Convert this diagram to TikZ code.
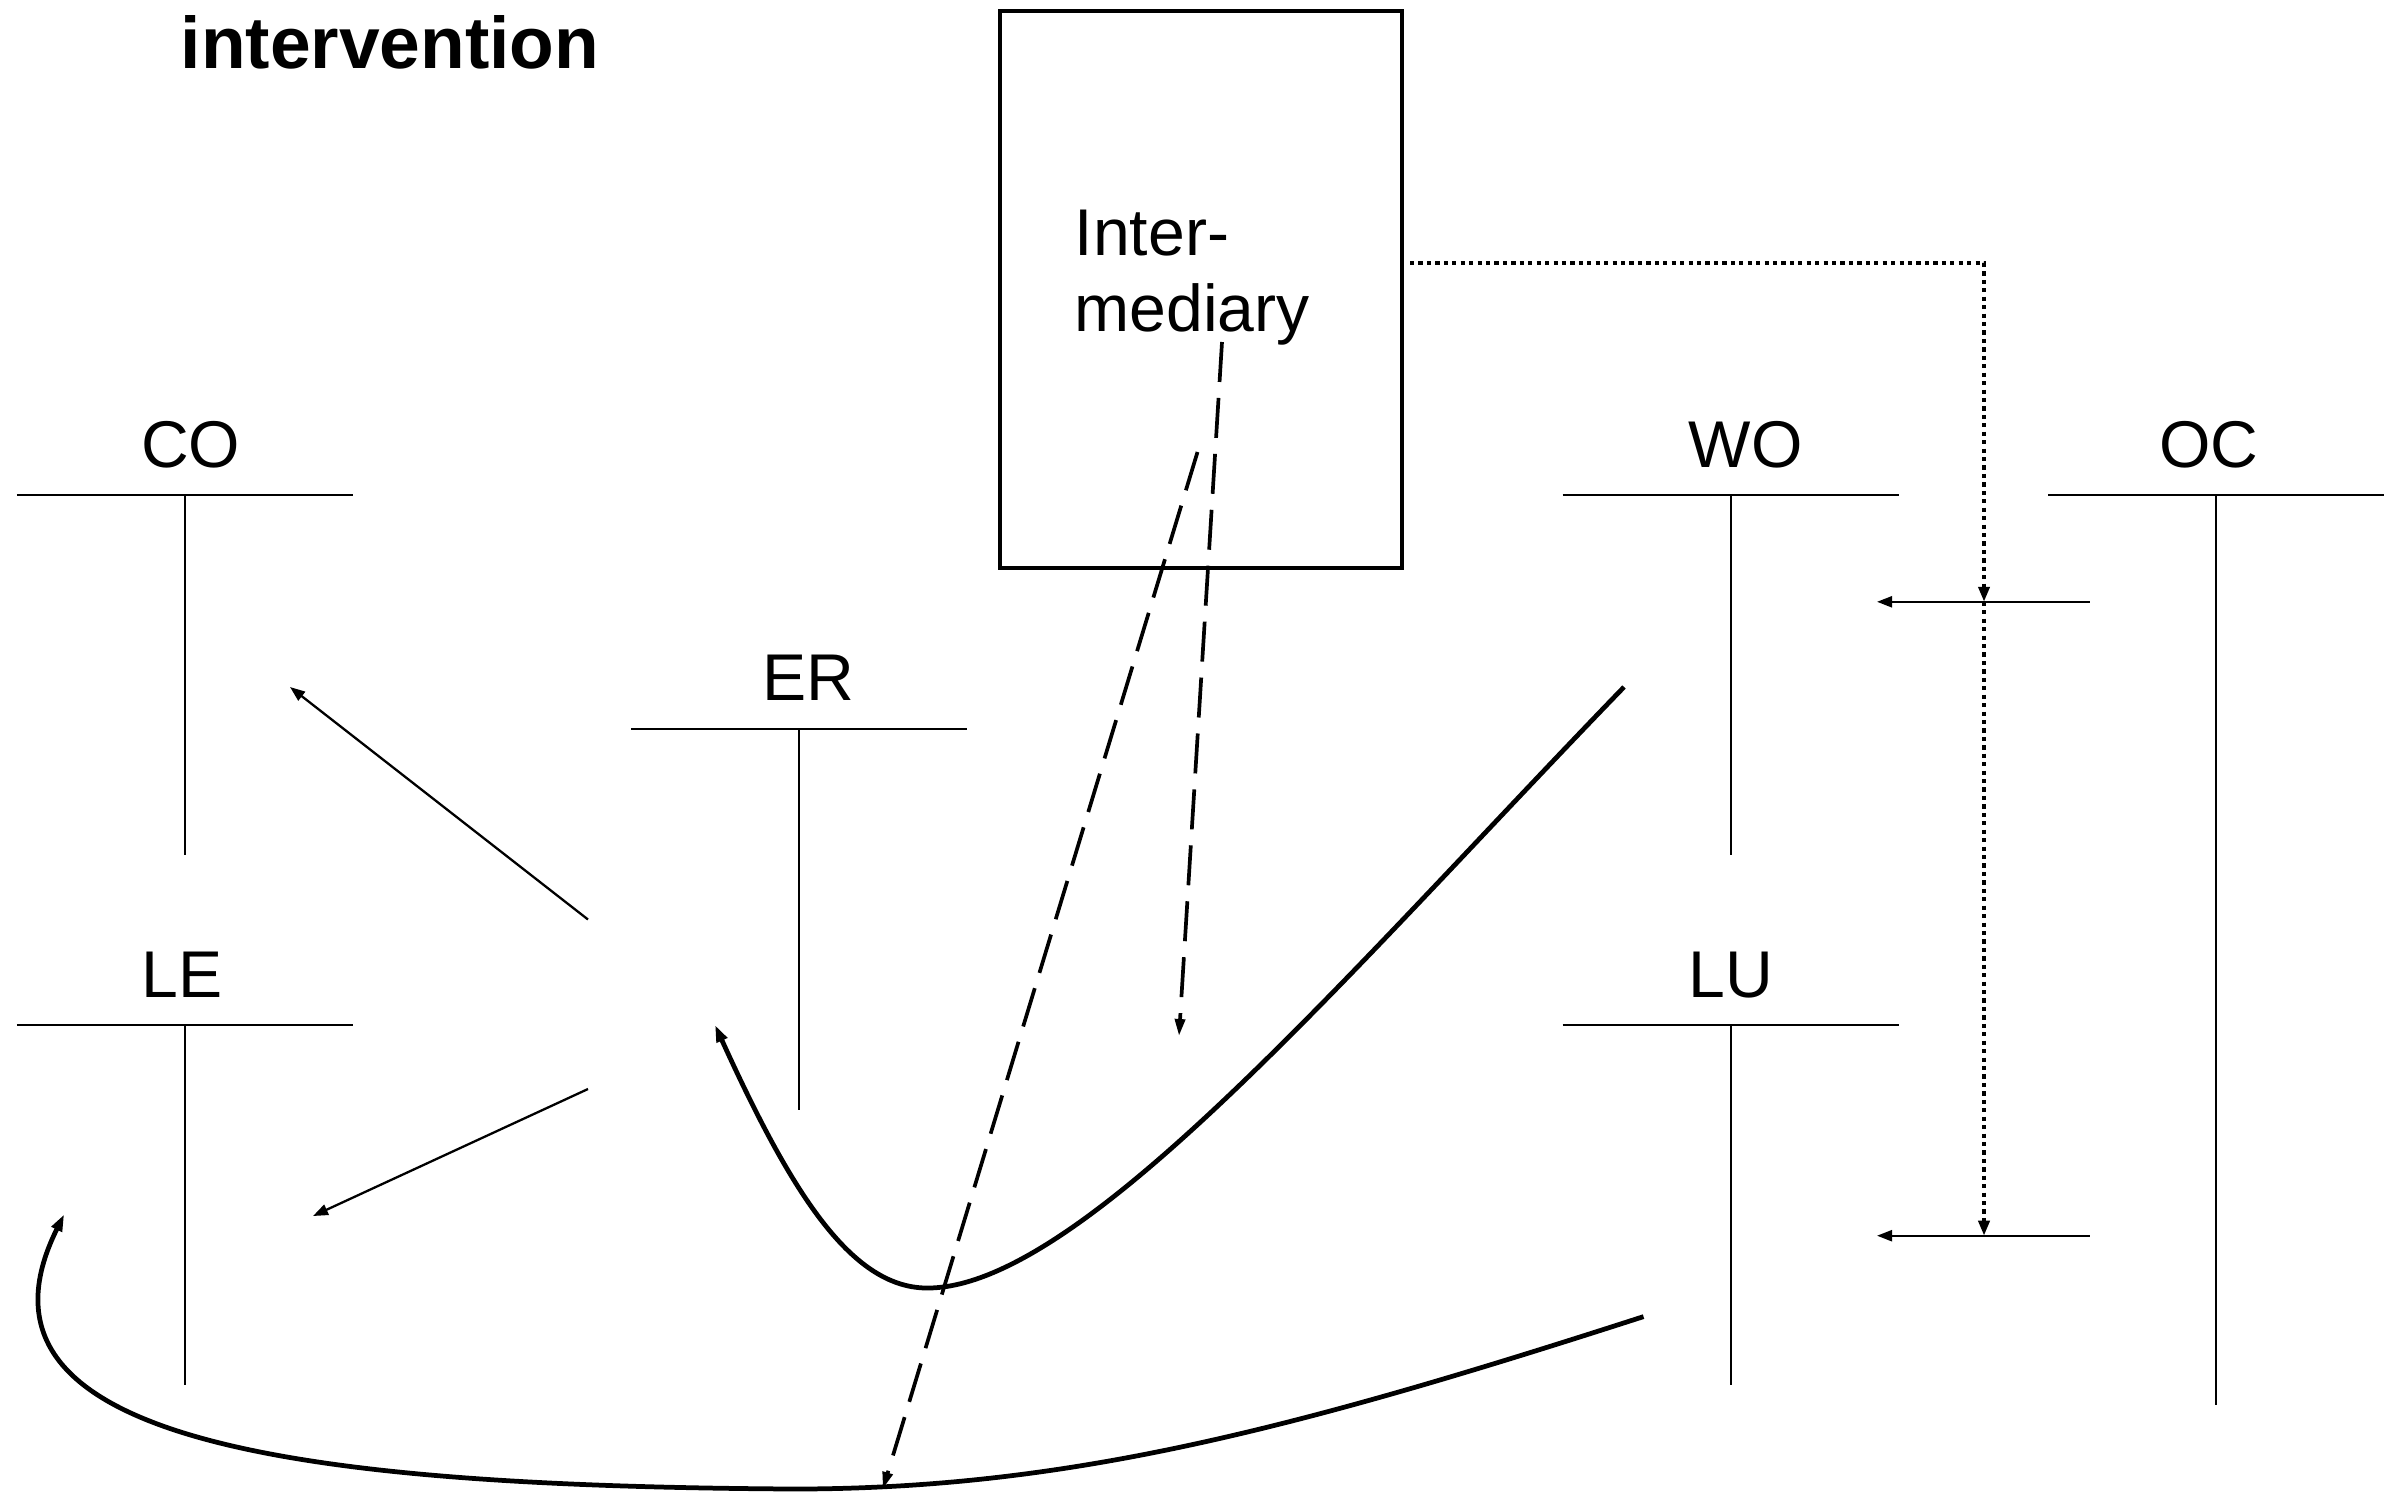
\documentclass[tikz,border=0pt]{standalone}
\usepackage{fontspec}
\setmainfont{Liberation Sans}
\usetikzlibrary{arrows.meta}
\begin{document}
\begin{tikzpicture}[x=0.01cm,y=-0.01cm,
  tip/.style={-{Triangle[length=0.15cm,width=0.11cm]}},
  thinarrow/.style={tip, line width=0.65pt},
  curvearrow/.style={-{Triangle[length=0.17cm,width=0.11cm]}, line width=1.35pt},
  dasharrow/.style={-{Triangle[length=0.17cm,width=0.10cm]}, line width=1.05pt, dash pattern=on 0.4cm off 0.16cm},
  dotarrow/.style={tip, line width=1.25pt, dash pattern=on 1.2pt off 1.2pt},
  teeline/.style={line width=0.55pt},
  lbl/.style={font=\fontsize{18.8pt}{22pt}\selectfont, inner sep=0pt, anchor=base},
  pics/tee/.style n args={3}{code={
    \draw[teeline] (-168,0) -- (168,0);
    \draw[teeline] (0,0) -- (0,#2);
    \node[lbl] (-label) at (#3,-28) {#1};
  }}
]
\useasboundingbox (0,0) rectangle (2395,1494);

% heading
\node[font=\fontsize{20.8pt}{25pt}\selectfont\bfseries, inner sep=0pt, anchor=base west]
  (title) at (180,69) {intervention};

% intermediary box
\node[draw, line width=1.2pt, minimum width=4.02cm, minimum height=5.57cm, inner sep=0pt]
  (box) at (1201,289.5) {};
\node[lbl, anchor=base west] (inter1) at (1074,255) {Inter-};
\node[lbl, anchor=base west] (inter2) at (1074,331) {mediary};

% T-shaped actors
\pic (co) at (184.8,495)  {tee={CO}{360}{6}};
\pic (le) at (184.8,1025) {tee={LE}{360}{-3}};
\pic (er) at (799,728.6)  {tee={ER}{381}{9}};
\pic (wo) at (1730.6,495) {tee={WO}{360}{15}};
\pic (lu) at (1730.6,1025){tee={LU}{360}{0}};
\pic (oc) at (2216,495)   {tee={OC}{910}{-7}};

% connector end points
\coordinate (a1s) at (588,919.5);   \coordinate (a1e) at (290,687);
\coordinate (a2s) at (588,1089);    \coordinate (a2e) at (313,1216);
\coordinate (h1s) at (2089.5,601.8); \coordinate (h1e) at (1877,601.8);
\coordinate (h2s) at (2089.5,1235.7);\coordinate (h2e) at (1877,1235.7);
\coordinate (dAs) at (1222,342);    \coordinate (dAe) at (1179,1036);
\coordinate (dBs) at (1197.5,452);  \coordinate (dBe) at (882.8,1489);
\coordinate (c1s) at (1624,687);    \coordinate (c1m) at (926,1288);  \coordinate (c1e) at (715,1025);
\coordinate (c2s) at (1643.5,1316.6); \coordinate (c2m) at (794,1489); \coordinate (c2e) at (64.2,1214.3);
\coordinate (dS) at (1410,263);     \coordinate (dC) at (1984,263);

% straight arrows
\draw[thinarrow] (a1s) -- (a1e);
\draw[thinarrow] (a2s) -- (a2e);
\draw[thinarrow] (h1s) -- (h1e);
\draw[thinarrow] (h2s) -- (h2e);

% curved arrows
\draw[curvearrow] (c1s) .. controls (1350,970) and (1080,1290) .. (c1m)
                        .. controls (850,1287) and (790,1190) .. (c1e);
\draw[curvearrow] (c2s) .. controls (1298,1428) and (1069,1489) .. (c2m)
                        .. controls (290,1486) and (-48,1440) .. (c2e);

% dashed influence lines
\draw[dasharrow] (dAs) -- (dAe);
\draw[dasharrow] (dBs) -- (dBe);

% dotted route from the intermediary
\draw[dotarrow] (dS) -- (dC) -- (dC |- h1s);
\draw[dotarrow] (dC |- h1s) -- (dC |- h2s);
\end{tikzpicture}
\end{document}
